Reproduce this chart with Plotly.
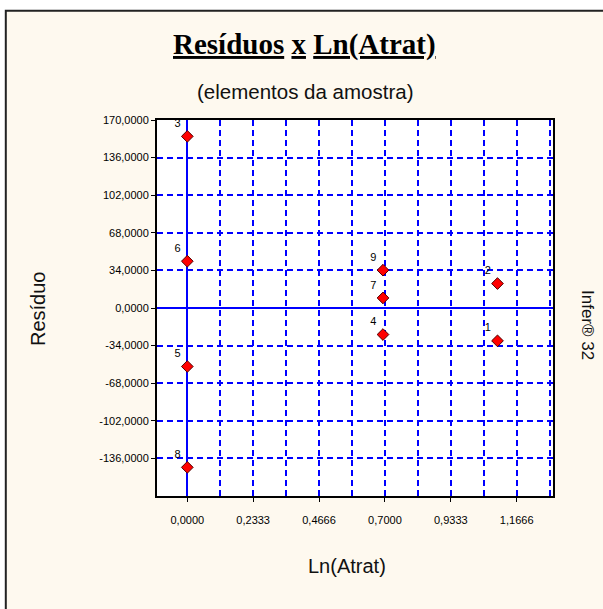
import plotly.graph_objects as go

# ---- data ----
point_labels = ["1", "2", "3", "4", "5", "6", "7", "8", "9"]
ln_atrat = [1.0986, 1.0986, 0.0, 0.6931, 0.0, 0.0, 0.6931, 0.0, 0.6931]
residuos = [-29.7, 22.1, 155.2, -24.0, -52.9, 42.3, 9.1, -144.1, 34.2]

x_tickvals = [0.0, 0.2333, 0.4666, 0.7, 0.9333, 1.1666]
x_ticktext = ["0,0000", "0,2333", "0,4666", "0,7000", "0,9333", "1,1666"]
y_tickvals = [170, 136, 102, 68, 34, 0, -34, -68, -102, -136]
y_ticktext = ["170,0000", "136,0000", "102,0000", "68,0000", "34,0000", "0,0000",
              "-34,0000", "-68,0000", "-102,0000", "-136,0000"]

# ---- layout geometry ----
W, H = 603, 609
L, R, T, B = 157, 50, 120, 113
PW, PH = W - L - R, H - T - B


def px(xpix):
    return (xpix - L) / PW


def py(ypix):
    return (H - B - ypix) / PH


BLUE = "#0000FF"
CREAM = "#FEF9EF"
DASH = "6px,4px"
GW = 1.5

fig = go.Figure()
fig.add_trace(go.Scatter(
    x=ln_atrat, y=residuos, text=point_labels,
    mode="markers+text", textposition="top left",
    textfont=dict(family="Liberation Sans, Arial", size=11, color="black"),
    marker=dict(symbol="diamond", size=9, color="#FF0000",
                line=dict(color="#500000", width=1)),
    hoverinfo="skip", showlegend=False, cliponaxis=False,
))

axis_font = dict(family="Liberation Sans, Arial", size=11, color="black")

fig.update_xaxes(
    range=[-0.1073, 1.2952],
    tickmode="array", tickvals=x_tickvals, ticktext=x_ticktext,
    tickfont=axis_font, ticks="outside", ticklen=4, tickcolor="black",
    ticklabelstandoff=9,
    showgrid=True, gridcolor=BLUE, gridwidth=GW, griddash=DASH,
    minor=dict(tickmode="linear", tick0=0, dtick=0.11665, showgrid=True,
               gridcolor=BLUE, gridwidth=GW, griddash=DASH, ticks=""),
    zeroline=True, zerolinecolor=BLUE, zerolinewidth=2,
    showline=True, mirror=True, linecolor="black", linewidth=2,
    fixedrange=True,
)
fig.update_yaxes(
    range=[-170, 170],
    tickmode="array", tickvals=y_tickvals, ticktext=y_ticktext,
    tickfont=axis_font, ticks="outside", ticklen=4, tickcolor="black",
    showgrid=True, gridcolor=BLUE, gridwidth=GW, griddash=DASH,
    zeroline=True, zerolinecolor=BLUE, zerolinewidth=2,
    showline=True, mirror=True, linecolor="black", linewidth=2,
    fixedrange=True,
)

shapes = [
    # white strips outside the outer frame
    dict(type="rect", xref="paper", yref="paper", x0=px(0), x1=px(W), y0=py(10), y1=py(0),
         fillcolor="white", line=dict(width=0), layer="below"),
    dict(type="rect", xref="paper", yref="paper", x0=px(0), x1=px(5), y0=py(H), y1=py(0),
         fillcolor="white", line=dict(width=0), layer="below"),
    # outer frame
    dict(type="path", xref="paper", yref="paper",
         path=f"M {px(5.8)} {py(H + 5)} L {px(5.8)} {py(10.8)} L {px(W + 5)} {py(10.8)}",
         line=dict(color="#222222", width=2)),
]

annotations = [
    dict(text="<b><u>Resíduos</u> <u>x</u> <u>Ln(Atrat)</u></b>",
         x=px(304.5), y=py(45), xref="paper", yref="paper",
         xanchor="center", yanchor="middle", showarrow=False,
         font=dict(family="Liberation Serif, Times New Roman", size=29, color="black")),
    dict(text="(elementos da amostra)",
         x=px(304.5), y=py(92), xref="paper", yref="paper",
         xanchor="center", yanchor="middle", showarrow=False,
         font=dict(family="Liberation Sans, Arial", size=20.5, color="#111111")),
    dict(text="Ln(Atrat)",
         x=px(346.5), y=py(566), xref="paper", yref="paper",
         xanchor="center", yanchor="middle", showarrow=False,
         font=dict(family="Liberation Sans, Arial", size=20, color="#111111")),
    dict(text="Resíduo", textangle=-90,
         x=px(38), y=py(309), xref="paper", yref="paper",
         xanchor="center", yanchor="middle", showarrow=False,
         font=dict(family="Liberation Sans, Arial", size=20, color="#111111")),
    dict(text="Infer® 32", textangle=90,
         x=px(588), y=py(325), xref="paper", yref="paper",
         xanchor="center", yanchor="middle", showarrow=False,
         font=dict(family="Liberation Sans, Arial", size=17, color="#111111")),
]

fig.update_layout(
    width=W, height=H, autosize=False,
    margin=dict(l=L, r=R, t=T, b=B, pad=0),
    paper_bgcolor=CREAM, plot_bgcolor="white",
    shapes=shapes, annotations=annotations,
    showlegend=False,
)

fig.write_html("out.html", config={"displayModeBar": False})
